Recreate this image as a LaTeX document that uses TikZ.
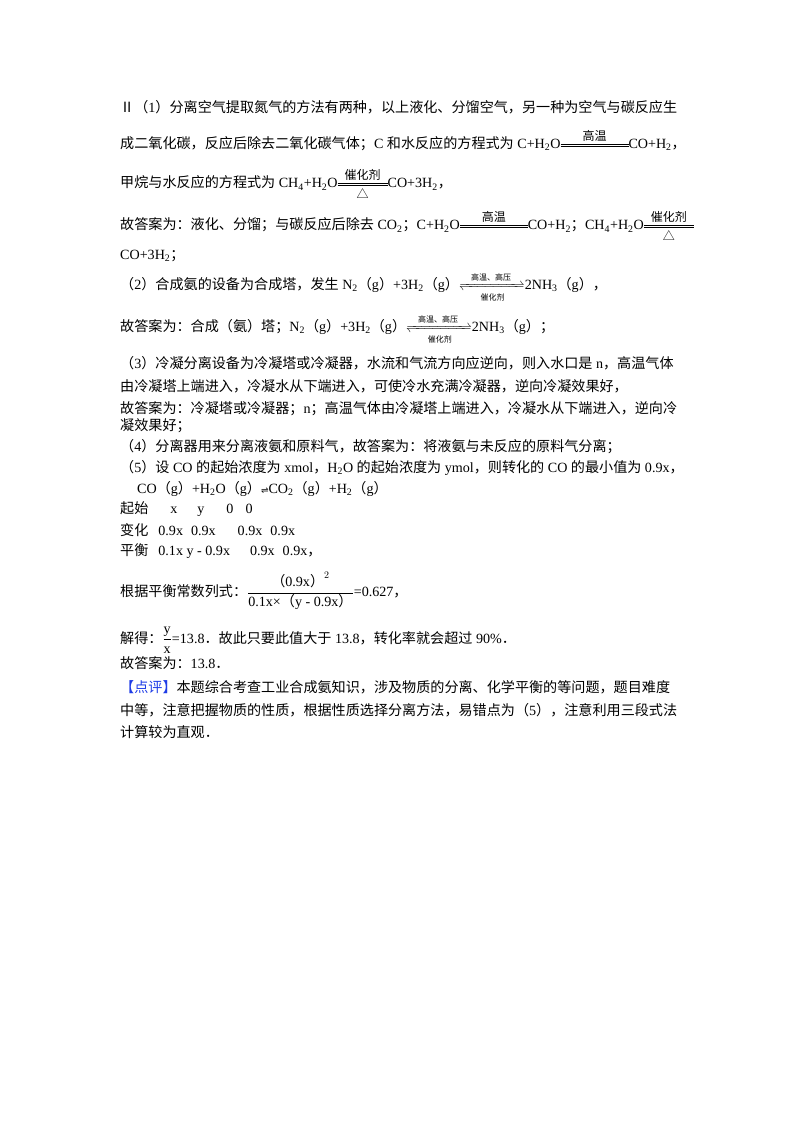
\documentclass[tikz,border=0pt]{standalone}
\usepackage{mathtools}
\usepackage{fontspec}
\setmainfont{Liberation Serif}
\newfontfamily\cjk{Noto Sans CJK SC}
\newfontfamily\djv{DejaVu Sans}
\XeTeXinterchartokenstate=1
\newXeTeXintercharclass\CJKcls
\count255="2E80 \loop \XeTeXcharclass\count255=\CJKcls \advance\count255 by 1 \ifnum\count255<"A000 \repeat
\count255="FF00 \loop \XeTeXcharclass\count255=\CJKcls \advance\count255 by 1 \ifnum\count255<"FFF0 \repeat
\XeTeXcharclass"2161=\CJKcls
\XeTeXcharclass"25B3=\CJKcls
\XeTeXinterchartoks 0 \CJKcls={\begingroup\cjk}
\XeTeXinterchartoks 4095 \CJKcls={\begingroup\cjk}
\XeTeXinterchartoks \CJKcls 0={\endgroup}
\XeTeXinterchartoks \CJKcls 4095={\endgroup}
\newcommand\sbs[1]{\textsubscript{#1}}
\newcommand\cond[3]{\mathrel{\mathop{\vcenter{\hrule width #1 height .6pt \kern1.8pt \hrule width #1 height .6pt}}\limits^{\text{\large #2}}_{\text{\large #3}}}}
\newcommand\rev{\mathrel{\xrightleftharpoons[\text{\footnotesize\hbox to 58pt{\hfil 催化剂\hfil}}]{\text{\footnotesize 高温、高压}}}}
\definecolor{dpblue}{RGB}{30,60,230}
\begin{document}
\begin{tikzpicture}[x=1pt,y=-1pt,
  ln/.style={anchor=west,inner sep=0pt,font=\fontsize{14.1}{16}\selectfont}]
\useasboundingbox (0,0) rectangle (800,1132);
\node[ln] (l1) at (120,107) {Ⅱ（1）分离空气提取氮气的方法有两种，以上液化、分馏空气，另一种为空气与碳反应生};
\node[ln] (l2) at (120,143) {成二氧化碳，反应后除去二氧化碳气体；C 和水反应的方程式为 C+H\sbs{2}O$\cond{68pt}{高温}{}$CO+H\sbs{2}，};
\node[ln] (l3) at (120,184) {甲烷与水反应的方程式为 CH\sbs{4}+H\sbs{2}O$\cond{50pt}{催化剂}{△}$CO+3H\sbs{2}，};
\node[ln] (l4) at (120,226) {故答案为：液化、分馏；与碳反应后除去 CO\sbs{2}；C+H\sbs{2}O$\cond{68pt}{高温}{}$CO+H\sbs{2}；CH\sbs{4}+H\sbs{2}O$\cond{50pt}{催化剂}{△}$};
\node[ln] (l5) at (120,256) {CO+3H\sbs{2}；};
\node[ln] (l6) at (120,287) {（2）合成氨的设备为合成塔，发生 N\sbs{2}（g）+3H\sbs{2}（g）$\rev$2NH\sbs{3}（g），};
\node[ln] (l7) at (120,329) {故答案为：合成（氨）塔；N\sbs{2}（g）+3H\sbs{2}（g）$\rev$2NH\sbs{3}（g）；};
\node[ln] (l8) at (120,363) {（3）冷凝分离设备为冷凝塔或冷凝器，水流和气流方向应逆向，则入水口是 n，高温气体};
\node[ln] (l9) at (120,386) {由冷凝塔上端进入，冷凝水从下端进入，可使冷水充满冷凝器，逆向冷凝效果好，};
\node[ln] (l10) at (120,409) {故答案为：冷凝塔或冷凝器；n；高温气体由冷凝塔上端进入，冷凝水从下端进入，逆向冷};
\node[ln] (l11) at (120,426) {凝效果好；};
\node[ln] (l12) at (120,447) {（4）分离器用来分离液氨和原料气，故答案为：将液氨与未反应的原料气分离；};
\node[ln] (l13) at (120,468) {（5）设 CO 的起始浓度为 xmol，H\sbs{2}O 的起始浓度为 ymol，则转化的 CO 的最小值为 0.9x，};
\node[ln] (l14) at (137,489) {CO（g）+H\sbs{2}O（g）{\djv\small ⇌}CO\sbs{2}（g）+H\sbs{2}（g）};
\node[ln] (l15) at (120,509) {起始\hspace{22pt}x\hspace{20pt}y\hspace{22pt}0\hspace{12pt}0};
\node[ln] (l16) at (120,530) {变化\hspace{10pt}0.9x\hspace{8pt}0.9x\hspace{22pt}0.9x\hspace{8pt}0.9x};
\node[ln] (l17) at (120,551) {平衡\hspace{10pt}0.1x y - 0.9x\hspace{20pt}0.9x\hspace{8pt}0.9x，};
\node[ln] (l18) at (120,591) {根据平衡常数列式：$\dfrac{\text{（0.9x）}^{2}}{\text{0.1x×（y - 0.9x）}}$=0.627，};
\node[ln] (l19) at (120,640) {解得：$\dfrac{\text{y}}{\text{x}}$=13.8．故此只要此值大于 13.8，转化率就会超过 90\%．};
\node[ln] (l20) at (120,663) {故答案为：13.8．};
\node[ln] (l21) at (120,687) {\textcolor{dpblue}{【点评】}本题综合考查工业合成氨知识，涉及物质的分离、化学平衡的等问题，题目难度};
\node[ln] (l22) at (120,710) {中等，注意把握物质的性质，根据性质选择分离方法，易错点为（5），注意利用三段式法};
\node[ln] (l23) at (120,732) {计算较为直观．};
\end{tikzpicture}
\end{document}
